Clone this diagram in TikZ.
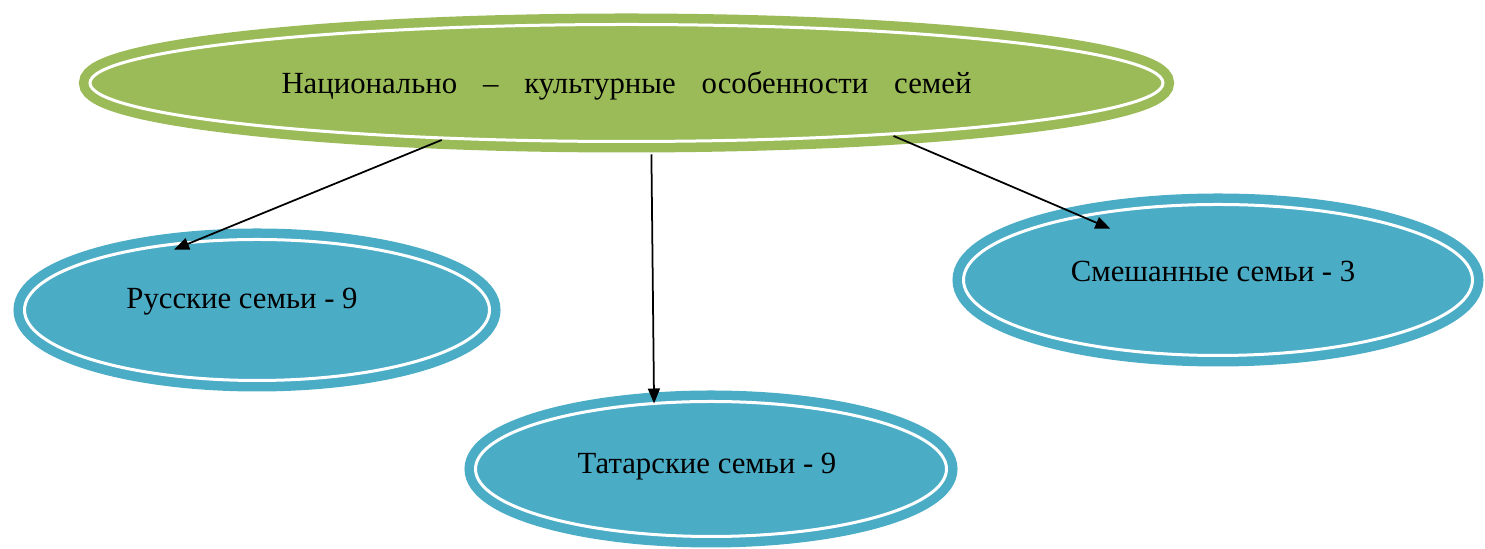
\documentclass[tikz,border=0pt]{standalone}
\usepackage{fontspec}
\setmainfont{Liberation Serif}
\usetikzlibrary{shapes,arrows.meta,positioning}
\definecolor{leafblue}{RGB}{75,172,198}
\definecolor{rootgreen}{RGB}{155,187,89}
\tikzstyle{familyvertex}=[ellipse,draw=leafblue,fill=leafblue,double=white,line width=0.19cm,double distance=0.06cm,inner sep=0pt,outer sep=0pt,font=\fontsize{17.5}{20}\selectfont]
\tikzstyle{rootvertex}=[familyvertex,draw=rootgreen,fill=rootgreen]
\tikzstyle{edge} = [draw,line width=0.035cm,-{Triangle[length=0.3cm,width=0.24cm]}]

\begin{document}
\begin{tikzpicture}

    \useasboundingbox (0,0) rectangle (29.7,10.98);

    % The root first
    \node[rootvertex,minimum width=21.46cm,minimum height=2.34cm] (top) at (12.53,9.32)
        {\raisebox{-0.06cm}[\height][\depth]{\makebox[13.8cm][s]{Национально – культурные особенности семей}}};

    % Then the three kinds of families
    \foreach \pos/\name/\label/\w/\h/\tx/\ty in {{(5.14,4.78)/left/Русские семьи - 9/9.3/2.82/0.6/0.16}, {(14.22,1.60)/middle/Татарские семьи - 9/9.42/2.7/0.16/0.04}, {(24.36,5.38)/right/Смешанные семьи - 3/10.18/3.02/0.2/0.18}}
        \node[familyvertex,minimum width=\w cm,minimum height=\h cm] (\name) at \pos
            {\raisebox{\ty cm}[\height][\depth]{\label}\hspace*{\tx cm}};

    % Connect root with the families
  \foreach \source/ \dest /\gap/\ext in {top.197/left.134/0.1/0.38, top.293/middle.131/0.26/0, top.349/right.155/0.1/0.63}
          \path[edge, shorten <=\gap cm, shorten >=-\ext cm] (\source) -- (\dest);

\end{tikzpicture}
\end{document}
